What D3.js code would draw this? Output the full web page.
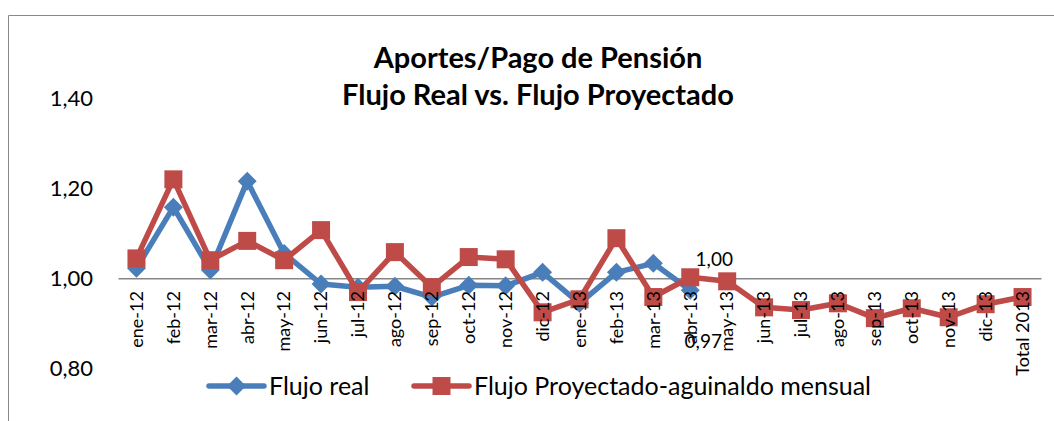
<!DOCTYPE html>
<html>
<head>
<meta charset="utf-8">
<script src="https://cdn.jsdelivr.net/npm/d3@7/dist/d3.min.js"></script>
<style>
  body { margin: 0; background: #ffffff; }
  text { font-family: Lato, "Open Sans", sans-serif; fill: #000000; }
</style>
</head>
<body>
<div id="myVis"></div>
<script>
var categories = ["ene-12", "feb-12", "mar-12", "abr-12", "may-12", "jun-12", "jul-12", "ago-12",
                  "sep-12", "oct-12", "nov-12", "dic-12", "ene-13", "feb-13", "mar-13", "abr-13",
                  "may-13", "jun-13", "jul-13", "ago-13", "sep-13", "oct-13", "nov-13", "dic-13", "Total 2013"];

// Flujo real only goes up to abr-13
var flujoReal = [1.022, 1.158, 1.018, 1.216, 1.055, 0.987, 0.980, 0.982, 0.958, 0.984, 0.983, 1.013,
                 0.944, 1.013, 1.033, 0.973];

var flujoProyectado = [1.044, 1.220, 1.040, 1.083, 1.040, 1.107, 0.969, 1.058, 0.980, 1.047, 1.042, 0.924,
                       0.953, 1.089, 0.958, 1.002, 0.993, 0.935, 0.929, 0.944, 0.911, 0.933, 0.913, 0.942, 0.958];

var yTicks = [0.8, 1.0, 1.2, 1.4];
var titleLines = ["Aportes/Pago de Pensión", "Flujo Real vs. Flujo Proyectado"];
var seriesNames = ["Flujo real", "Flujo Proyectado-aguinaldo mensual"];
var labelIndex = 15; // abr-13 has data labels

var width = 1054;
var height = 421;

var blue = "#4a7ebb";
var red = "#be4b48";

var locale = d3.formatLocale({decimal: ",", thousands: ".", grouping: [3], currency: ["", ""]});
var fmt = locale.format(".2f");

var canvas = d3.select("#myVis")
                .append("svg")
                .attr("width", width)
                .attr("height", height)
                .style("display", "block");

// chart area border (left and top edges visible)
canvas.append("path")
        .attr("d", "M8.5," + height + "V15.5H" + width)
        .attr("fill", "none")
        .attr("stroke", "#898989")
        .attr("stroke-width", 1);

var x = d3.scaleBand()
          .domain(categories)
          .range([118, 1041]);

var y = d3.scaleLinear()
          .domain([0.8, 1.4])
          .range([368, 98.5]);

function cx(i) { return x(categories[i]) + x.bandwidth() / 2; }

// title
canvas.selectAll(".title")
        .data(titleLines)
        .enter()
        .append("text")
        .attr("class", "title")
        .attr("x", 538)
        .attr("y", function(d, i) { return 68 + i * 37; })
        .attr("text-anchor", "middle")
        .style("font-weight", "bold")
        .style("font-size", "29px")
        .text(function(d) { return d; });

// y axis labels (no axis line)
var yAxis = canvas.append("g")
        .attr("transform", "translate(118,0)")
        .call(d3.axisLeft(y).tickValues(yTicks).tickSize(0).tickPadding(25).tickFormat(fmt));
yAxis.select(".domain").remove();
yAxis.selectAll("text")
        .style("font-size", "22px")
        .style("font-family", "Lato, sans-serif");

// category axis at 1,00
var xAxisLine = canvas.append("g")
        .attr("transform", "translate(0," + y(1.0) + ")")
        .call(d3.axisBottom(x).tickSize(0).tickSizeOuter(0));
xAxisLine.select(".domain")
        .attr("stroke", "#868686")
        .attr("stroke-width", 1.5);
xAxisLine.selectAll("text").remove();

var line = d3.line()
             .x(function(d, i) { return cx(i); })
             .y(function(d) { return y(d); });

// Flujo real
canvas.append("path")
        .datum(flujoReal)
        .attr("d", line)
        .attr("fill", "none")
        .attr("stroke", blue)
        .attr("stroke-width", 5.5)
        .attr("stroke-linejoin", "round");

var diamond = d3.symbol().type(d3.symbolSquare).size(180);

canvas.selectAll(".realMarker")
        .data(flujoReal)
        .enter()
        .append("path")
        .attr("class", "realMarker")
        .attr("d", diamond)
        .attr("fill", blue)
        .attr("transform", function(d, i) { return "translate(" + cx(i) + "," + y(d) + ") rotate(45)"; });

// Flujo proyectado
canvas.append("path")
        .datum(flujoProyectado)
        .attr("d", line)
        .attr("fill", "none")
        .attr("stroke", red)
        .attr("stroke-width", 5.5)
        .attr("stroke-linejoin", "round");

var square = d3.symbol().type(d3.symbolSquare).size(324);

canvas.selectAll(".proyMarker")
        .data(flujoProyectado)
        .enter()
        .append("path")
        .attr("class", "proyMarker")
        .attr("d", square)
        .attr("fill", red)
        .attr("transform", function(d, i) { return "translate(" + cx(i) + "," + y(d) + ")"; });

// category labels, drawn on top of the lines like in excel
canvas.selectAll(".catLabel")
        .data(categories)
        .enter()
        .append("text")
        .attr("class", "catLabel")
        .attr("transform", function(d) {
            return "translate(" + (x(d) + x.bandwidth() / 2) + "," + (y(1.0) + 13) + ") rotate(-90)";
        })
        .attr("dy", "0.35em")
        .attr("text-anchor", "end")
        .style("font-size", "18px")
        .text(function(d) { return d; });

// data labels for abr-13
canvas.append("text")
        .attr("x", cx(labelIndex) + 24)
        .attr("y", y(flujoProyectado[labelIndex]) - 11)
        .attr("text-anchor", "middle")
        .style("font-size", "19px")
        .text(fmt(flujoProyectado[labelIndex]));

canvas.append("text")
        .attr("x", cx(labelIndex) + 13)
        .attr("y", y(flujoReal[labelIndex]) + 58)
        .attr("text-anchor", "middle")
        .style("font-size", "19px")
        .text(fmt(flujoReal[labelIndex]));

// legend
var legendItems = [
    {name: seriesNames[0], color: blue, x0: 209, symbol: diamond, rot: 45},
    {name: seriesNames[1], color: red, x0: 414, symbol: square, rot: 0}
];

var legend = canvas.selectAll(".legend")
        .data(legendItems)
        .enter()
        .append("g")
        .attr("class", "legend")
        .attr("transform", function(d) { return "translate(" + d.x0 + ",386)"; });

legend.append("line")
        .attr("x1", 0)
        .attr("x2", 55)
        .attr("stroke", function(d) { return d.color; })
        .attr("stroke-width", 5.5)
        .attr("stroke-linecap", "round");

legend.append("path")
        .attr("d", function(d) { return d.symbol(); })
        .attr("fill", function(d) { return d.color; })
        .attr("transform", function(d) { return "translate(27.5,0) rotate(" + d.rot + ")"; });

legend.append("text")
        .attr("x", 60)
        .attr("dy", "0.35em")
        .style("font-size", "25px")
        .text(function(d) { return d.name; });
</script>
</body>
</html>
